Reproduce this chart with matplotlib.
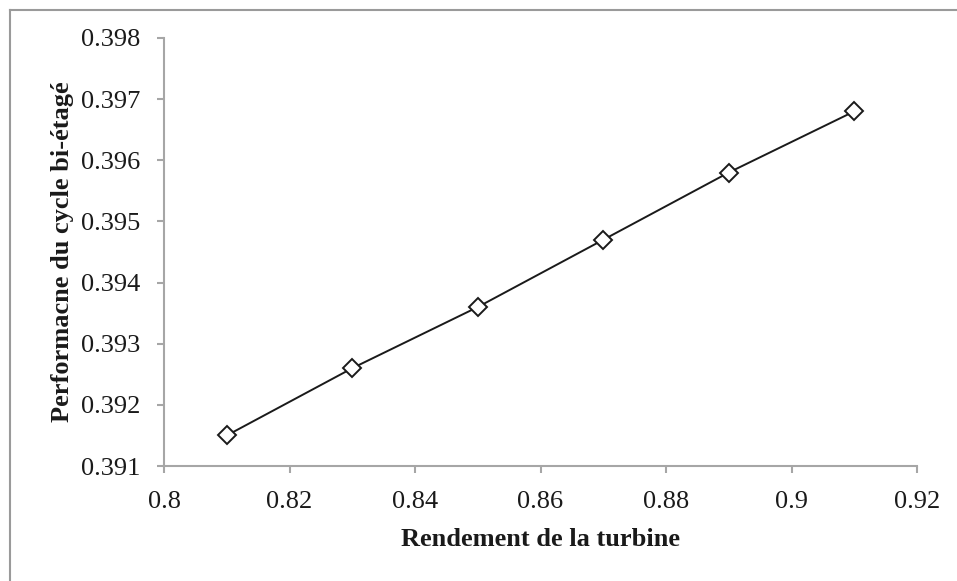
import matplotlib.pyplot as plt
from matplotlib.lines import Line2D

rendement = [0.81, 0.83, 0.85, 0.87, 0.89, 0.91]
performance = [0.3915, 0.3926, 0.3936, 0.3947, 0.3958, 0.3968]

x_ticks = [0.8, 0.82, 0.84, 0.86, 0.88, 0.9, 0.92]
x_labels = ["0.8", "0.82", "0.84", "0.86", "0.88", "0.9", "0.92"]
y_ticks = [0.391, 0.392, 0.393, 0.394, 0.395, 0.396, 0.397, 0.398]
y_labels = ["0.391", "0.392", "0.393", "0.394", "0.395", "0.396", "0.397", "0.398"]

plt.rcParams["font.family"] = ["Liberation Serif", "DejaVu Serif"]

grey = "#a6a6a6"

fig = plt.figure(figsize=(9.57, 5.81), dpi=100)
ax = fig.add_axes([0.1714, 0.1979, 0.9582 - 0.1714, 0.9346 - 0.1979])

ax.plot(rendement, performance, color="#1a1a1a", linewidth=1.4,
        marker="D", markersize=9.5, markerfacecolor="white",
        markeredgecolor="#1a1a1a", markeredgewidth=1.4)

ax.set_xlim(0.8, 0.92)
ax.set_ylim(0.391, 0.398)
ax.set_xticks(x_ticks)
ax.set_xticklabels(x_labels)
ax.set_yticks(y_ticks)
ax.set_yticklabels(y_labels)

for side in ["top", "right"]:
    ax.spines[side].set_visible(False)
for side in ["left", "bottom"]:
    ax.spines[side].set_color(grey)
    ax.spines[side].set_linewidth(1.5)

ax.tick_params(axis="both", direction="out", length=5, width=1.5,
               color=grey, labelsize=19, labelcolor="#1a1a1a")
ax.tick_params(axis="x", pad=13)
ax.tick_params(axis="y", pad=12)

ax.set_xlabel("Rendement de la turbine", fontsize=19, fontweight="bold",
              color="#1a1a1a", labelpad=11)
ax.set_ylabel("Performacne du cycle bi-étagé", fontsize=19, fontweight="bold",
              color="#1a1a1a", labelpad=5)

# outer chart border (only top and left visible)
fig.add_artist(Line2D([9.5 / 957, 9.5 / 957], [0, 1 - 9.5 / 581],
                      transform=fig.transFigure, color="#9a9a9a", linewidth=1.5))
fig.add_artist(Line2D([9.5 / 957, 1], [1 - 9.5 / 581, 1 - 9.5 / 581],
                      transform=fig.transFigure, color="#9a9a9a", linewidth=1.5))

fig.savefig("out.png", dpi=100)
